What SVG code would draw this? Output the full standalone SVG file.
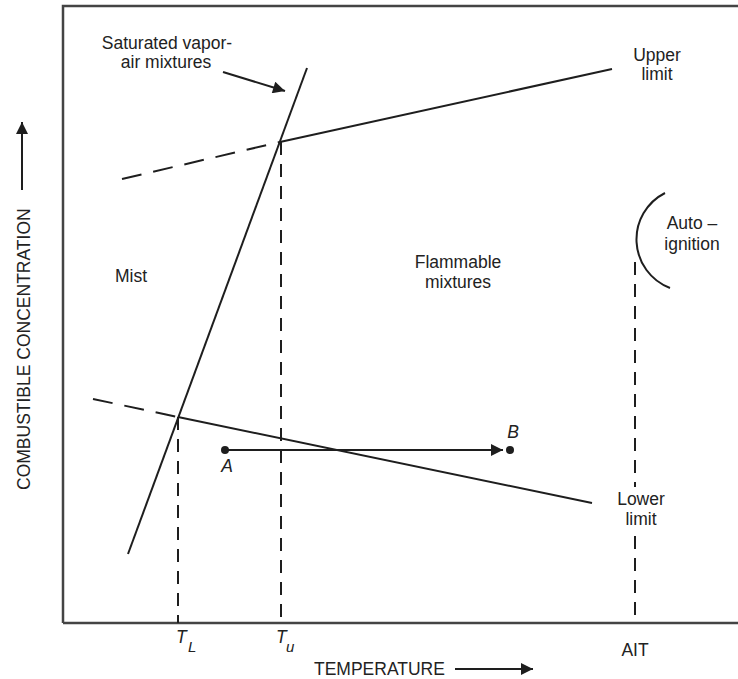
<svg xmlns="http://www.w3.org/2000/svg" width="738" height="679" viewBox="0 0 738 679">
<style>
text{font-family:"Liberation Sans",Arial,sans-serif;font-size:17.5px;fill:#222}
.it{font-style:italic}
.c{text-anchor:middle}
.ln{stroke:#1e1e1e;stroke-width:2;fill:none}
.fr{stroke:#444;stroke-width:2.5;fill:none}
.dv{stroke:#1e1e1e;stroke-width:2;fill:none;stroke-dasharray:13 9}
.ds{stroke:#1e1e1e;stroke-width:2;fill:none;stroke-dasharray:20 12}
</style>
<defs>
<marker id="ah" viewBox="0 0 10 10" refX="10" refY="5" markerWidth="6.5" markerHeight="6" markerUnits="strokeWidth" orient="auto">
<path d="M0,0 L10,5 L0,10 Z" fill="#1e1e1e"/>
</marker>
</defs>
<rect width="738" height="679" fill="#fff"/>
<g id="frame">
<path class="fr" d="M63,623 V6 H738"/>
<path class="fr" d="M63,623 H738"/>
</g>
<g id="connectors">
<path class="ds" d="M122,179 L280,142"/>
<path class="ln" d="M280,142 L612,69"/>
<path class="ds" d="M93,399 L178,417"/>
<path class="ln" d="M178,417 L592,503"/>
<path class="ln" d="M128,554 L307,68"/>
<path class="dv" d="M178,417 V623"/>
<path class="dv" d="M281,142 V623"/>
<path class="dv" d="M635,262 V487"/>
<path class="dv" d="M635,536 V623"/>
<path class="ln" d="M665,193 A52,52 0 0 0 670,288"/>
<path class="ln" d="M223,72 L285,91" marker-end="url(#ah)"/>
<path class="ln" d="M225,450 L503,450" marker-end="url(#ah)"/>
<path class="ln" d="M455,669 L533,669" marker-end="url(#ah)"/>
<path class="ln" d="M22,190 L22,122" marker-end="url(#ah)"/>
<circle cx="225" cy="450" r="4" fill="#1e1e1e"/>
<circle cx="510" cy="450" r="4" fill="#1e1e1e"/>
</g>
<g id="saturated"><text class="c" x="167" y="49">Saturated vapor-</text><text class="c" x="166" y="68">air mixtures</text></g>
<g id="upper"><text class="c" x="657" y="61">Upper</text><text class="c" x="657" y="80">limit</text></g>
<g id="mist"><text x="115" y="282">Mist</text></g>
<g id="flammable"><text class="c" x="458" y="268">Flammable</text><text class="c" x="458" y="288">mixtures</text></g>
<g id="autoignition"><text class="c" x="692" y="229">Auto –</text><text class="c" x="692" y="250">ignition</text></g>
<g id="lower"><text class="c" x="641" y="505">Lower</text><text class="c" x="641" y="525">limit</text></g>
<g id="pointA"><text class="c it" x="227" y="472">A</text></g>
<g id="pointB"><text class="c it" x="513" y="438">B</text></g>
<g id="TL"><text class="it" x="176" y="643">T</text><text class="it" x="188" y="652" style="font-size:15px">L</text></g>
<g id="Tu"><text class="it" x="276" y="643">T</text><text class="it" x="286" y="652" style="font-size:15px">u</text></g>
<g id="AIT"><text class="c" x="635" y="656">AIT</text></g>
<g id="xlabel"><text x="314" y="675">TEMPERATURE</text></g>
<g id="ylabel"><text transform="translate(30,490) rotate(-90)">COMBUSTIBLE CONCENTRATION</text></g>
</svg>
